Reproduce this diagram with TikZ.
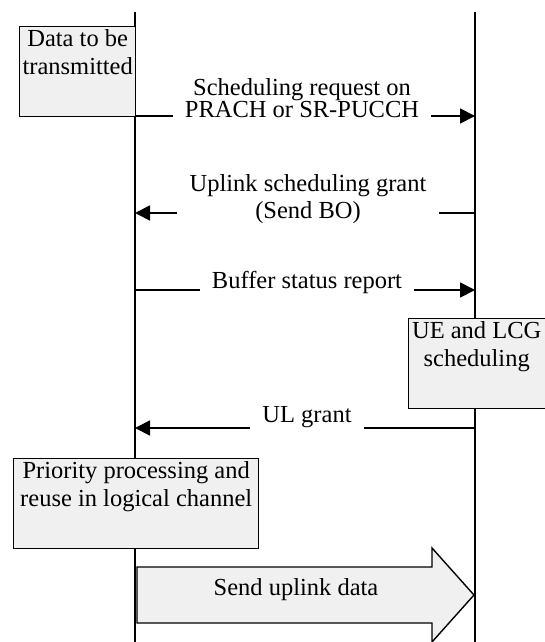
\documentclass[tikz,border=0pt]{standalone}
\usepackage{fontspec}
\setmainfont{Liberation Serif}
\usetikzlibrary{arrows.meta,positioning}

\definecolor{boxgray}{HTML}{F0F0F0}

\tikzset{
  lifeline/.style={line width=1.8pt, black},
  msg/.style={line width=1.8pt, black},
  msgtip/.style={-{Triangle[length=15pt,width=15pt]}},
  procbox/.style={draw=black, line width=1.4pt, fill=boxgray, inner sep=0pt},
  boxtext/.style={align=center, inner sep=0pt, font=\fontsize{24.5}{28}\selectfont},
  msglabel/.style={align=center, inner xsep=12pt, inner ysep=0pt, font=\fontsize{24.5}{27}\selectfont},
}

\begin{document}
\begin{tikzpicture}[x=1pt, y=-1pt]
  \useasboundingbox (0,0) rectangle (544,642);

  % lifelines: UE (left) and eNB (right)
  \coordinate (ueTop) at (135,12);
  \coordinate (ueBot) at (135,642);
  \coordinate (enbTop) at (475,12);
  \coordinate (enbBot) at (475,642);
  \draw[lifeline] (ueTop) -- (ueBot);
  \draw[lifeline] (enbTop) -- (enbBot);

  % data waiting in the UE buffer
  \node[procbox, minimum width=116pt, minimum height=90pt, anchor=north west] (data) at (19,26) {};
  \node[boxtext, anchor=north] (dataTxt) at ([yshift=-3pt]data.north) {Data to be\\transmitted};

  % scheduling request
  \coordinate (m1a) at (135,116);
  \coordinate (m1b) at (475,116);
  \node[msglabel, font=\fontsize{24.5}{20}\selectfont, anchor=south] (l1) at (302,118) {Scheduling request on\\PRACH or SR-PUCCH};
  \draw[msg] (m1a) -- (l1.west |- m1a);
  \draw[msg, msgtip] (l1.east |- m1b) -- (m1b);

  % uplink scheduling grant
  \coordinate (m2a) at (475,213);
  \coordinate (m2b) at (135,213);
  \node[msglabel] (l2) at (308,199) {Uplink scheduling grant\\(Send BO)};
  \draw[msg] (m2a) -- (l2.east |- m2a);
  \draw[msg, msgtip] (l2.west |- m2b) -- (m2b);

  % buffer status report
  \coordinate (m3a) at (135,290);
  \coordinate (m3b) at (475,290);
  \node[msglabel] (l3) at (307,282) {Buffer status report};
  \draw[msg] (m3a) -- (l3.west |- m3a);
  \draw[msg, msgtip] (l3.east |- m3b) -- (m3b);

  % scheduling decision at the eNB
  \node[procbox, minimum width=138pt, minimum height=90pt, anchor=north west] (sched) at (408,318) {};
  \node[boxtext, anchor=north] (schedTxt) at ([xshift=-1pt,yshift=-3pt]sched.north) {UE and LCG\\scheduling};

  % UL grant
  \coordinate (m4a) at (475,428);
  \coordinate (m4b) at (135,428);
  \node[msglabel] (l4) at (307,417) {UL grant};
  \draw[msg] (m4a) -- (l4.east |- m4a);
  \draw[msg, msgtip] (l4.west |- m4b) -- (m4b);

  % logical channel prioritisation in the UE
  \node[procbox, minimum width=245pt, minimum height=90pt, anchor=north west] (prio) at (13,458) {};
  \node[boxtext, anchor=north] (prioTxt) at ([yshift=-3pt]prio.north) {Priority processing and\\reuse in logical channel};

  % uplink data transfer
  \draw[line width=1.4pt, fill=boxgray, line join=miter]
    (137,567) -- (432,567) -- (432,548) -- (474,595) -- (432,642)
    -- (432,623) -- (137,623) -- cycle;
  \node[boxtext] (sendTxt) at (296,590) {Send uplink data};
\end{tikzpicture}
\end{document}
